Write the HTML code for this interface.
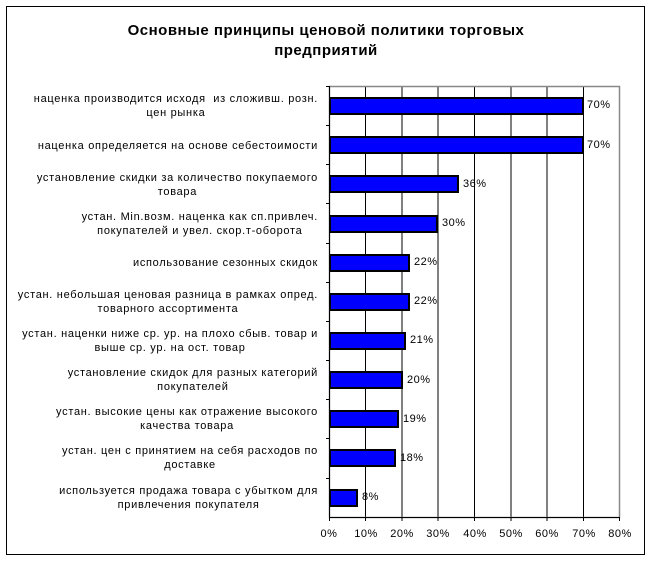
<!DOCTYPE html>
<html><head><meta charset="utf-8"><style>
body{margin:0;background:#fff;width:652px;height:562px;position:relative;overflow:hidden;font-family:"Liberation Sans",Arial,sans-serif}
.frame{position:absolute;left:6px;top:6px;width:639px;height:549px;border:1px solid #000;box-sizing:border-box}
.title{position:absolute;left:0;width:652px;top:21px;text-align:center;font-weight:bold;font-size:15px;line-height:20px;letter-spacing:0.5px}
.lab{position:absolute;right:334px;width:320px;text-align:right;font-size:11px;line-height:14px;letter-spacing:0.7px}
.lab span{display:inline-block;text-align:center}
.val{position:absolute;font-size:11px;letter-spacing:0.5px}
.ax{position:absolute;top:528px;font-size:11px;width:40px;text-align:center;letter-spacing:0.5px}
</style></head><body>
<div class="frame"></div>
<div class="title">Основные принципы ценовой политики торговых<br>предприятий</div>
<svg width="652" height="562" style="position:absolute;left:0;top:0">
<g stroke="#000" stroke-width="1">
<line x1="365.5" y1="86" x2="365.5" y2="517"/><line x1="402" y1="86" x2="402" y2="517"/><line x1="438" y1="86" x2="438" y2="517"/><line x1="474.5" y1="86" x2="474.5" y2="517"/><line x1="511" y1="86" x2="511" y2="517"/><line x1="547" y1="86" x2="547" y2="517"/><line x1="583.5" y1="86" x2="583.5" y2="517"/>
</g>
<rect x="329.5" y="86.5" width="290" height="431" fill="none" stroke="#888" stroke-width="1.5"/>
<line x1="329.5" y1="86" x2="329.5" y2="517" stroke="#000"/>
<line x1="329" y1="517.5" x2="620" y2="517.5" stroke="#000"/>
<g stroke="#000">
<line x1="326" y1="86.5" x2="329" y2="86.5"/><line x1="326" y1="125.5" x2="329" y2="125.5"/><line x1="326" y1="164.5" x2="329" y2="164.5"/><line x1="326" y1="203.5" x2="329" y2="203.5"/><line x1="326" y1="243.5" x2="329" y2="243.5"/><line x1="326" y1="282.5" x2="329" y2="282.5"/><line x1="326" y1="321.5" x2="329" y2="321.5"/><line x1="326" y1="360.5" x2="329" y2="360.5"/><line x1="326" y1="399.5" x2="329" y2="399.5"/><line x1="326" y1="438.5" x2="329" y2="438.5"/><line x1="326" y1="478.5" x2="329" y2="478.5"/>
<line x1="329.5" y1="517" x2="329.5" y2="521"/><line x1="365.5" y1="517" x2="365.5" y2="521"/><line x1="402" y1="517" x2="402" y2="521"/><line x1="438" y1="517" x2="438" y2="521"/><line x1="474.5" y1="517" x2="474.5" y2="521"/><line x1="511" y1="517" x2="511" y2="521"/><line x1="547" y1="517" x2="547" y2="521"/><line x1="583.5" y1="517" x2="583.5" y2="521"/><line x1="619.5" y1="517" x2="619.5" y2="521"/>
</g>
<g fill="#0000ff" stroke="#000" stroke-width="2">
<rect x="330" y="98" width="253" height="16"/>
<rect x="330" y="137" width="253" height="16"/>
<rect x="330" y="176" width="128" height="16"/>
<rect x="330" y="216" width="107" height="16"/>
<rect x="330" y="255" width="79" height="16"/>
<rect x="330" y="294" width="79" height="16"/>
<rect x="330" y="333" width="75" height="16"/>
<rect x="330" y="372" width="72" height="16"/>
<rect x="330" y="411" width="68" height="16"/>
<rect x="330" y="450" width="65" height="16"/>
<rect x="330" y="490" width="27" height="16"/>
</g>
</svg>
<div class="lab" style="top:92px"><span>наценка производится исходя&nbsp; из сложивш. розн.<br>цен рынка</span></div>
<div class="lab" style="top:139px"><span>наценка определяется на основе себестоимости</span></div>
<div class="lab" style="top:171px"><span>установление скидки за количество покупаемого<br>товара</span></div>
<div class="lab" style="top:210px"><span>устан. Min.возм. наценка как сп.привлеч.<br>покупателей и увел. скор.т-оборота</span></div>
<div class="lab" style="top:256px"><span>использование сезонных скидок</span></div>
<div class="lab" style="top:288px"><span>устан. небольшая ценовая разница в рамках опред.<br>товарного ассортимента</span></div>
<div class="lab" style="top:327px"><span>устан. наценки ниже ср. ур. на плохо сбыв. товар и<br>выше ср. ур. на ост. товар</span></div>
<div class="lab" style="top:366px"><span>установление скидок для разных категорий<br>покупателей</span></div>
<div class="lab" style="top:405px"><span>устан. высокие цены как отражение высокого<br>качества товара</span></div>
<div class="lab" style="top:444px"><span>устан. цен с принятием на себя расходов по<br>доставке</span></div>
<div class="lab" style="top:484px"><span>используется продажа товара с убытком для<br>привлечения покупателя</span></div>
<div class="val" style="left:587px;top:99px">70%</div>
<div class="val" style="left:587px;top:139px">70%</div>
<div class="val" style="left:463px;top:178px">36%</div>
<div class="val" style="left:442px;top:217px">30%</div>
<div class="val" style="left:414px;top:256px">22%</div>
<div class="val" style="left:414px;top:295px">22%</div>
<div class="val" style="left:410px;top:334px">21%</div>
<div class="val" style="left:407px;top:374px">20%</div>
<div class="val" style="left:403px;top:413px">19%</div>
<div class="val" style="left:400px;top:452px">18%</div>
<div class="val" style="left:362px;top:491px">8%</div>
<div class="ax" style="left:309px">0%</div>
<div class="ax" style="left:346px">10%</div>
<div class="ax" style="left:382px">20%</div>
<div class="ax" style="left:418px">30%</div>
<div class="ax" style="left:455px">40%</div>
<div class="ax" style="left:491px">50%</div>
<div class="ax" style="left:527px">60%</div>
<div class="ax" style="left:564px">70%</div>
<div class="ax" style="left:600px">80%</div>
</body></html>
